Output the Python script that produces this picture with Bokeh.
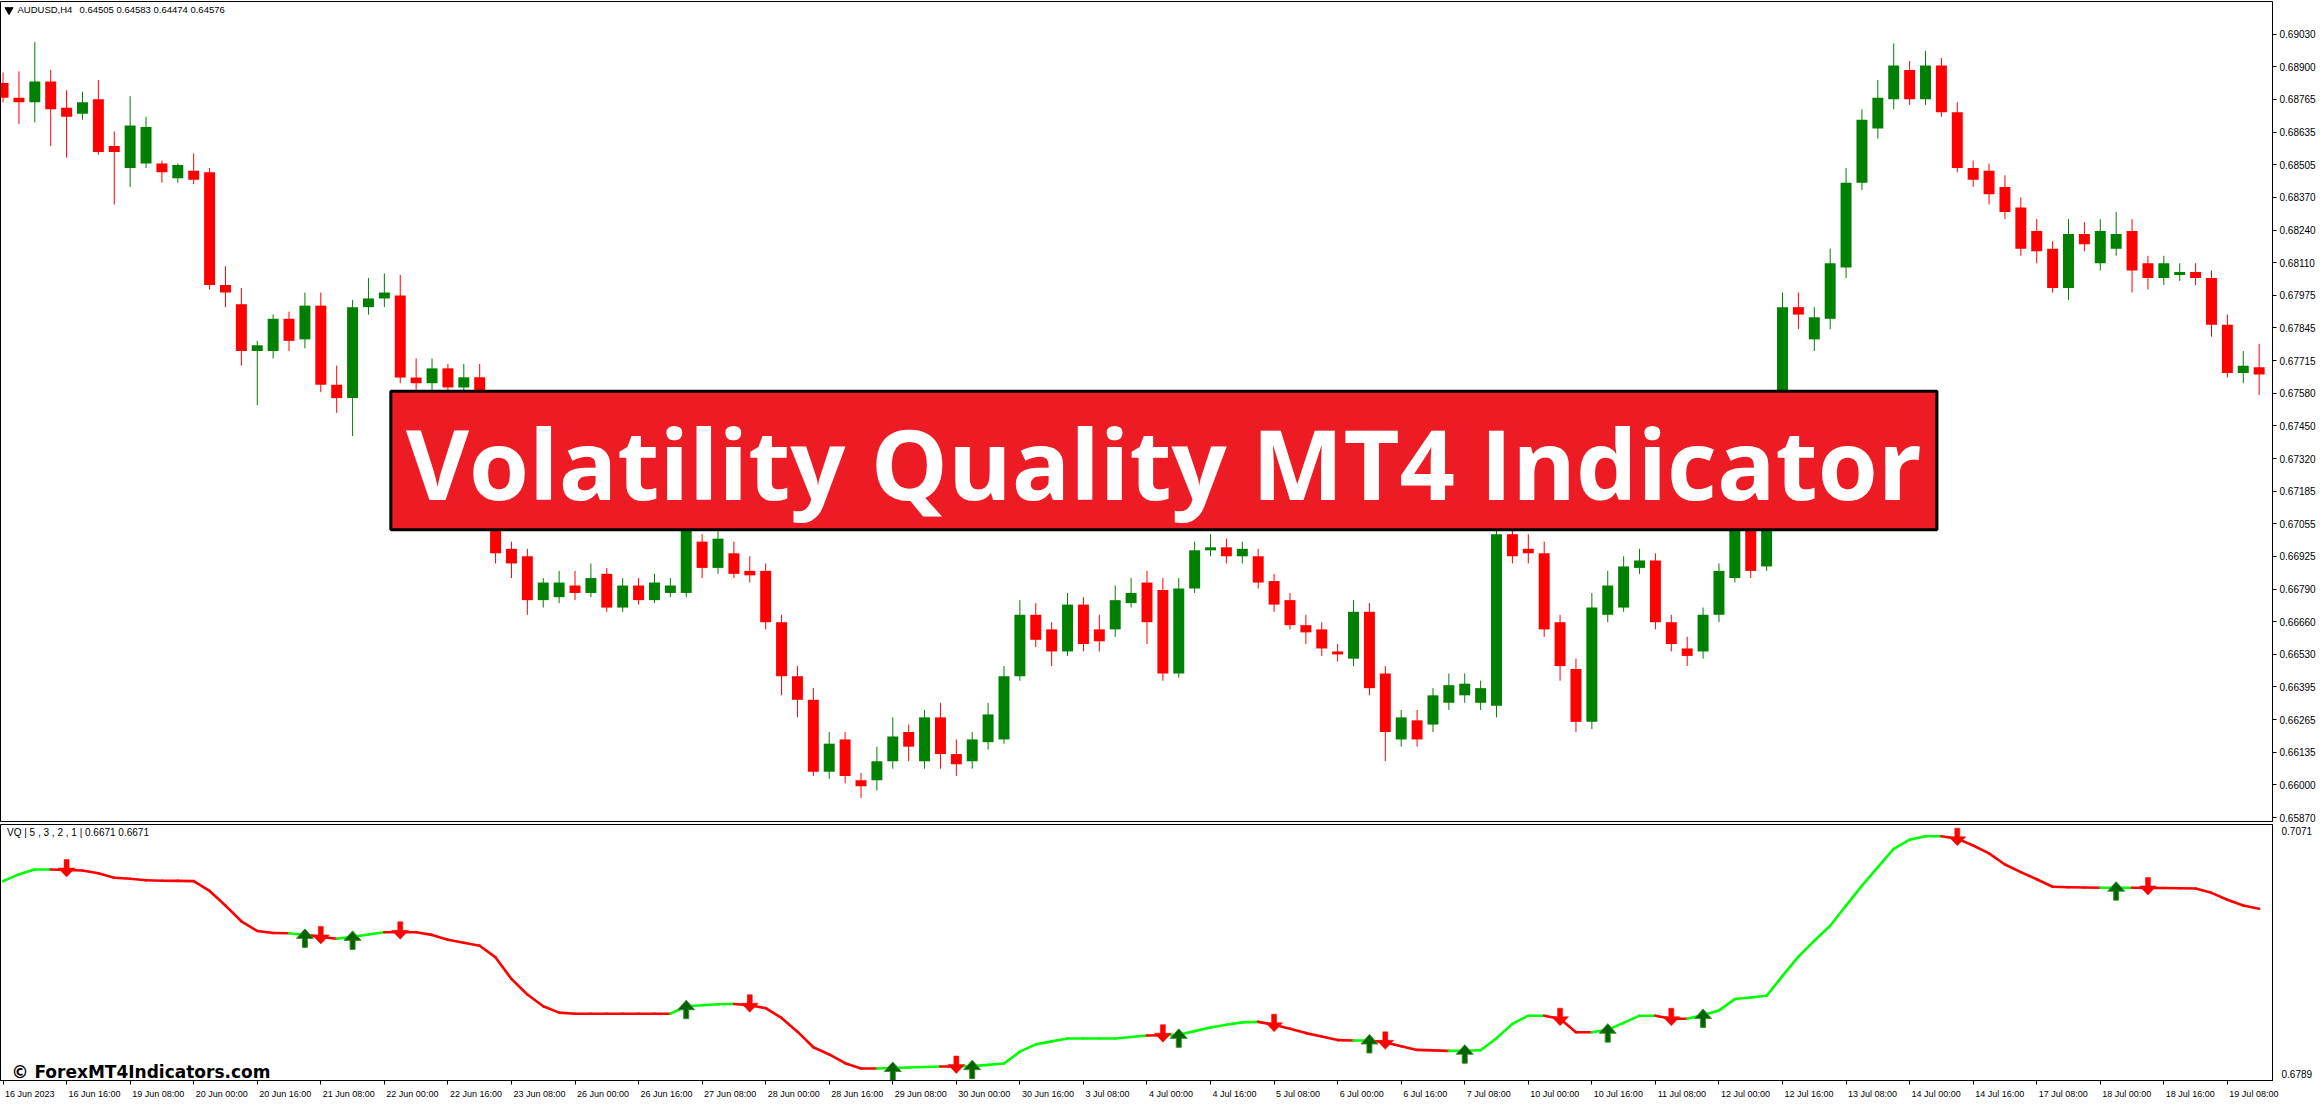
from bokeh.plotting import figure
from bokeh.layouts import column
from bokeh.models import Range1d, FixedTicker, Label, BoxAnnotation
from bokeh.embed import file_html
from bokeh.resources import INLINE

# ---------------- data ----------------
time_labels = ["16 Jun 2023", "16 Jun 16:00", "19 Jun 08:00", "20 Jun 00:00", "20 Jun 16:00",
               "21 Jun 08:00", "22 Jun 00:00", "22 Jun 16:00", "23 Jun 08:00", "26 Jun 00:00",
               "26 Jun 16:00", "27 Jun 08:00", "28 Jun 00:00", "28 Jun 16:00", "29 Jun 08:00",
               "30 Jun 00:00", "30 Jun 16:00", "3 Jul 08:00", "4 Jul 00:00", "4 Jul 16:00",
               "5 Jul 08:00", "6 Jul 00:00", "6 Jul 16:00", "7 Jul 08:00", "10 Jul 00:00",
               "10 Jul 16:00", "11 Jul 08:00", "12 Jul 00:00", "12 Jul 16:00", "13 Jul 08:00",
               "14 Jul 00:00", "14 Jul 16:00", "17 Jul 08:00", "18 Jul 00:00", "18 Jul 16:00",
               "19 Jul 08:00"]
bars_per_label = 4

price_labels = ["0.65870", "0.66000", "0.66135", "0.66265", "0.66395", "0.66530", "0.66660",
                "0.66790", "0.66925", "0.67055", "0.67185", "0.67320", "0.67450", "0.67580",
                "0.67715", "0.67845", "0.67975", "0.68110", "0.68240", "0.68370", "0.68505",
                "0.68635", "0.68765", "0.68900", "0.69030"]
price_tick_lo, price_tick_hi = 0.65870, 0.69030
price_lo, price_hi = 0.65854, 0.69162

opens = [.68833, .68774, .68756, .68839, .68733, .68709, .68768, .68579, .68490, .68508,
         .68508, .68449, .68479, .68473, .68018, .67941, .67752, .67752, .67882, .67799,
         .67935, .67616, .67562, .67929, .67964, .67976, .67645, .67622, .67682, .67605,
         .67646, .67279, .66954, .66924, .66747, .66759, .66806, .66776, .66853, .66717,
         .66806, .66747, .66776, .66776, .66983, .66877, .66936, .66865, .66865, .66658,
         .66440, .66345, .66055, .66185, .66020, .66020, .66097, .66215, .66097, .66274,
         .66126, .66097, .66174, .66185, .66440, .66688, .66629, .66540, .66729, .66629,
         .66629, .66735, .66818, .66788, .66451, .66794, .66948, .66960, .66924, .66924,
         .66824, .66747, .66646, .66629, .66540, .66511, .66700, .66451, .66185, .66262,
         .66245, .66333, .66363, .66333, .66321, .67013, .66954, .66936, .66658, .66469,
         .66256, .66688, .66717, .66877, .66907, .66658, .66552, .66540, .66688, .66836,
         .67072, .66883, .67161, .67929, .67799, .67882, .68089, .68431, .68650, .68768,
         .68886, .68768, .68904, .68715, .68490, .68479, .68414, .68331, .68236, .68165,
         .68006, .68224, .68106, .68165, .68236, .68106, .68047, .68059, .68071, .68047,
         .67858, .67663, .67687]
closes = [.68774, .68756, .68839, .68727, .68697, .68756, .68555, .68555, .68662, .68656,
          .68473, .68502, .68443, .68018, .67988, .67752, .67775, .67882, .67793, .67935,
          .67616, .67562, .67929, .67964, .67988, .67645, .67622, .67682, .67605, .67646,
          .67279, .66936, .66895, .66747, .66818, .66818, .66776, .66836, .66717, .66806,
          .66747, .66818, .66806, .67102, .66877, .66995, .66853, .66847, .66658, .66440,
          .66345, .66055, .66168, .66038, .65996, .66097, .66197, .66156, .66274, .66126,
          .66085, .66185, .66286, .66440, .66688, .66587, .66540, .66729, .66570, .66581,
          .66747, .66776, .66658, .66451, .66794, .66948, .66960, .66924, .66954, .66818,
          .66729, .66646, .66617, .66552, .66528, .66700, .66392, .66215, .66274, .66185,
          .66363, .66404, .66410, .66392, .67013, .66924, .66936, .66629, .66481, .66256,
          .66717, .66806, .66883, .66907, .66658, .66570, .66522, .66688, .66865, .67042,
          .66865, .67161, .67929, .67899, .67888, .68106, .68431, .68685, .68774, .68904,
          .68768, .68904, .68715, .68490, .68443, .68384, .68313, .68165, .68154, .68006,
          .68224, .68183, .68236, .68224, .68077, .68047, .68106, .68071, .68047, .67858,
          .67663, .67693, .67657]
highs = [.68875, .68880, .68999, .68886, .68804, .68798, .68845, .68638, .68780, .68697,
         .68520, .68508, .68549, .68490, .68094, .68006, .67793, .67899, .67911, .67988,
         .67988, .67693, .67958, .68047, .68065, .68059, .67722, .67722, .67700, .67700,
         .67700, .67308, .66983, .66954, .66836, .66865, .66865, .66895, .66877, .66836,
         .66836, .66853, .66836, .67131, .67013, .67042, .66983, .66924, .66895, .66688,
         .66481, .66392, .66215, .66215, .66050, .66156, .66274, .66245, .66304, .66333,
         .66185, .66215, .66333, .66481, .66747, .66735, .66658, .66776, .66759, .66688,
         .66806, .66836, .66865, .66836, .66836, .66983, .67013, .66995, .66983, .66954,
         .66853, .66776, .66688, .66658, .66570, .66747, .66735, .66481, .66304, .66304,
         .66392, .66451, .66451, .66422, .67072, .67161, .67013, .66983, .66688, .66511,
         .66776, .66865, .66924, .66954, .66936, .66688, .66599, .66717, .66895, .67072,
         .67161, .67220, .67988, .67988, .67929, .68165, .68490, .68727, .68845, .68993,
         .68922, .68963, .68934, .68756, .68520, .68508, .68461, .68372, .68284, .68195,
         .68284, .68272, .68284, .68313, .68284, .68136, .68136, .68106, .68106, .68077,
         .67899, .67752, .67781]
lows = [.68756, .68668, .68674, .68579, .68532, .68685, .68544, .68343, .68414, .68490,
        .68431, .68431, .68425, .68000, .67929, .67693, .67533, .67722, .67752, .67763,
        .67586, .67503, .67409, .67899, .67929, .67622, .67515, .67545, .67515, .67486,
        .67220, .66895, .66836, .66688, .66717, .66735, .66747, .66759, .66700, .66700,
        .66729, .66735, .66759, .66759, .66836, .66853, .66836, .66818, .66629, .66363,
        .66274, .66038, .66026, .66008, .65949, .65979, .66067, .66097, .66067, .66067,
        .66038, .66067, .66144, .66168, .66422, .66558, .66481, .66522, .66540, .66540,
        .66599, .66717, .66570, .66422, .66434, .66776, .66924, .66895, .66895, .66794,
        .66700, .66629, .66570, .66522, .66499, .66481, .66363, .66097, .66156, .66156,
        .66215, .66304, .66333, .66304, .66274, .66895, .66895, .66599, .66422, .66215,
        .66227, .66658, .66700, .66853, .66629, .66540, .66481, .66511, .66658, .66818,
        .66836, .66865, .67131, .67840, .67752, .67840, .68047, .68402, .68609, .68727,
        .68745, .68745, .68697, .68473, .68414, .68343, .68284, .68136, .68106, .67988,
        .67958, .68154, .68077, .68136, .67988, .68000, .68018, .68035, .68018, .67810,
        .67645, .67622, .67574]

vq = [.70086, .70161, .70215, .70215, .70209, .70204, .70172, .70123, .70113, .70096,
      .70091, .70089, .70086, .69978, .69817, .69644, .69537, .69515, .69512, .69494,
      .69472, .69451, .69472, .69499, .69523, .69523, .69523, .69494, .69440, .69408,
      .69375, .69246, .69009, .68837, .68708, .68638, .68625, .68625, .68625, .68625,
      .68625, .68625, .68625, .68708, .68719, .68730, .68733, .68719, .68687, .68579,
      .68428, .68256, .68177, .68081, .68022, .68022, .68028, .68033, .68039, .68044,
      .68044, .68048, .68062, .68078, .68208, .68288, .68321, .68353, .68353, .68353,
      .68353, .68369, .68385, .68389, .68393, .68434, .68474, .68504, .68530, .68536,
      .68504, .68460, .68412, .68374, .68335, .68331, .68331, .68310, .68267, .68227,
      .68222, .68216, .68218, .68224, .68356, .68514, .68604, .68604, .68571, .68421,
      .68421, .68450, .68525, .68604, .68604, .68571, .68571, .68611, .68662, .68787,
      .68805, .68823, .69042, .69254, .69429, .69594, .69817, .70037, .70240, .70441,
      .70543, .70581, .70581, .70554, .70479, .70392, .70269, .70186, .70107, .70024,
      .70019, .70016, .70014, .70014, .70014, .70010, .70010, .70007, .70005, .69957,
      .69881, .69817, .69781]
vq_lo, vq_hi = 0.6789, 0.7071
vq_up_signals = [19, 22, 43, 56, 61, 74, 86, 92, 101, 107, 133]
vq_dn_signals = [4, 20, 25, 47, 60, 73, 80, 87, 98, 105, 123, 135]

# ---------------- layout constants ----------------
FRAME_W = 2272
MAIN_H = 820
IND_H = 256
X_LO, X_HI = -0.16, 142.84
PPB = FRAME_W / (X_HI - X_LO)          # pixels per bar
MAIN_DPP = (price_hi - price_lo) / MAIN_H
IND_DPP = (vq_hi - vq_lo) / IND_H
SMALL_FONT = "Liberation Sans"
UP_C, DN_C = "#008000", "#FF0000"

n = len(opens)
xs = list(range(n))

# ---------------- main chart ----------------
xr = Range1d(X_LO, X_HI)
main = figure(frame_width=FRAME_W, frame_height=MAIN_H, x_range=xr,
              y_range=Range1d(price_lo, price_hi), output_backend="svg",
              toolbar_location=None, x_axis_location=None, y_axis_location="right",
              min_border_left=0, min_border_top=1, min_border_bottom=2, min_border_right=0)
main.grid.visible = False
main.outline_line_color = "black"
main.outline_line_alpha = 1
main.outline_line_width = 1

step = (price_tick_hi - price_tick_lo) / (len(price_labels) - 1)
pticks = [round(price_tick_lo + k * step, 8) for k in range(len(price_labels))]
ya = main.yaxis[0]
ya.ticker = FixedTicker(ticks=pticks)
ya.major_label_overrides = {t: s for t, s in zip(pticks, price_labels)}
ya.major_label_text_font = SMALL_FONT
ya.major_label_text_font_size = "10px"
ya.major_label_text_color = "black"
ya.major_tick_in = 0
ya.major_tick_out = 4
ya.major_tick_line_color = "black"
ya.minor_tick_line_color = None
ya.axis_line_color = "black"
ya.major_label_standoff = 3

colors = [UP_C if c > o else DN_C for o, c in zip(opens, closes)]
tops = [max(o, c) for o, c in zip(opens, closes)]
bots = [min(o, c) for o, c in zip(opens, closes)]
main.segment(x0=xs, y0=lows, x1=xs, y1=highs, line_color=colors, line_width=1)
main.vbar(x=xs, width=0.69, top=tops, bottom=bots, fill_color=colors, line_color=None)

# header
main.scatter(x=[X_LO + 8.5 / PPB], y=[price_hi - 8.5 * MAIN_DPP], marker="inverted_triangle",
             size=8, fill_color="black", line_color="black")
main.add_layout(Label(x=X_LO + 17 / PPB, y=price_hi - 7.5 * MAIN_DPP, text="AUDUSD,H4",
                      text_font=SMALL_FONT, text_font_size="9.5px", text_color="black",
                      text_baseline="middle"))
main.add_layout(Label(x=X_LO + 79 / PPB, y=price_hi - 7.5 * MAIN_DPP,
                      text="0.64505 0.64583 0.64474 0.64576",
                      text_font=SMALL_FONT, text_font_size="9.5px", text_color="black",
                      text_baseline="middle"))

# banner (frame fractions)
b_left, b_right, b_top, b_bot, b_mid = 0.1718, 0.8523, 0.4753, 0.6441, 0.5618
def fx(f):
    return X_LO + f * (X_HI - X_LO)
def fy(f):
    return price_hi - f * (price_hi - price_lo)
main.add_layout(BoxAnnotation(left=fx(b_left), right=fx(b_right), top=fy(b_top), bottom=fy(b_bot),
                              fill_color="#ED1C24", fill_alpha=1, line_color="black",
                              line_width=3, line_alpha=1))
main.add_layout(Label(x=fx((b_left + b_right) / 2), y=fy(b_mid),
                      text="Volatility Quality MT4 Indicator", text_font="Open Sans",
                      text_font_style="bold", text_font_size="97px", text_color="white",
                      text_align="center", text_baseline="middle"))

# ---------------- indicator ----------------
ind = figure(frame_width=FRAME_W, frame_height=IND_H, x_range=xr,
             y_range=Range1d(vq_lo, vq_hi), output_backend="svg", toolbar_location=None,
             y_axis_location="right", min_border_left=0, min_border_top=1,
             min_border_bottom=2, min_border_right=0)
ind.grid.visible = False
ind.outline_line_color = "black"
ind.outline_line_alpha = 1
ind.outline_line_width = 1

# time axis: tick marks at bars, labels placed to the right of ticks
cw = {" ": .278, ":": .278, "J": .5, "u": .556, "n": .556, "l": .222}
def text_w(s, size=9.0):
    return sum(cw.get(ch, .556) for ch in s) * size
bar_ticks = [k * bars_per_label for k in range(len(time_labels))]
label_pos = [round(b + (2 + text_w(s) / 2) / PPB, 6) for b, s in zip(bar_ticks, time_labels)]
xa = ind.xaxis[0]
xa.ticker = FixedTicker(ticks=label_pos, minor_ticks=bar_ticks)
xa.major_label_overrides = {p: s for p, s in zip(label_pos, time_labels)}
xa.major_tick_line_color = None
xa.minor_tick_line_color = "black"
xa.minor_tick_in = 0
xa.minor_tick_out = 4
xa.axis_line_color = "black"
xa.major_label_text_font = SMALL_FONT
xa.major_label_text_font_size = "9px"
xa.major_label_text_color = "black"
xa.major_label_standoff = 2

yb = ind.yaxis[0]
vticks = [round(vq_lo + 6 * IND_DPP, 6), round(vq_hi - 6 * IND_DPP, 6)]
yb.ticker = FixedTicker(ticks=vticks)
yb.major_label_overrides = {vticks[0]: f"{vq_lo:.4f}", vticks[1]: f"{vq_hi:.4f}"}
yb.major_tick_line_color = None
yb.minor_tick_line_color = None
yb.axis_line_color = "black"
yb.major_label_text_font = SMALL_FONT
yb.major_label_text_font_size = "10px"
yb.major_label_text_color = "black"
yb.major_label_standoff = 3

# trend state from signals
up_set, dn_set = set(vq_up_signals), set(vq_dn_signals)
state, trend = 1, []
for i in range(n):
    if i in up_set:
        state = 1
    if i in dn_set:
        state = -1
    trend.append(state)
seg_c = ["#00FF00" if trend[i] > 0 else "#FF0000" for i in range(1, n)]
ind.segment(x0=xs[:-1], y0=vq[:-1], x1=xs[1:], y1=vq[1:], line_color=seg_c,
            line_width=2.6, line_cap="round")

# arrow shapes in screen pixels (dx right, dy down) relative to the line point
DN_SHAPE = [(-2.5, -10.5), (2.5, -10.5), (2.5, -2), (8.5, -2), (0, 7), (-8.5, -2), (-2.5, -2)]
UP_SHAPE = [(0, -6), (8.5, 3.5), (2.5, 3.5), (2.5, 12.5), (-2.5, 12.5), (-2.5, 3.5), (-8.5, 3.5)]
def arrow_polys(bars, shape):
    pxs, pys = [], []
    for b in bars:
        v = vq[b]
        pxs.append([b + dx / PPB for dx, dy in shape])
        pys.append([v - dy * IND_DPP for dx, dy in shape])
    return pxs, pys
axs, ays = arrow_polys(vq_dn_signals, DN_SHAPE)
ind.patches(xs=axs, ys=ays, fill_color="#FF0000", line_color="#FF0000", line_width=0.5)
axs, ays = arrow_polys(vq_up_signals, UP_SHAPE)
ind.patches(xs=axs, ys=ays, fill_color="#006400", line_color="#3f8f2f", line_width=1)

ind.add_layout(Label(x=X_LO + 6.5 / PPB, y=vq_hi - 8.4 * IND_DPP,
                     text="VQ | 5 , 3 , 2 , 1 | 0.6671 0.6671", text_font=SMALL_FONT,
                     text_font_size="10px", text_color="black", text_baseline="middle"))
ind.add_layout(Label(x=X_LO + 11 / PPB, y=vq_lo + 8.2 * IND_DPP,
                     text="\u00a9 ForexMT4Indicators.com", text_font="DejaVu Sans",
                     text_font_style="bold", text_font_size="17px", text_color="black",
                     text_baseline="middle"))

p = column(main, ind, spacing=0)
open("out.html", "w").write(file_html(p, INLINE))
